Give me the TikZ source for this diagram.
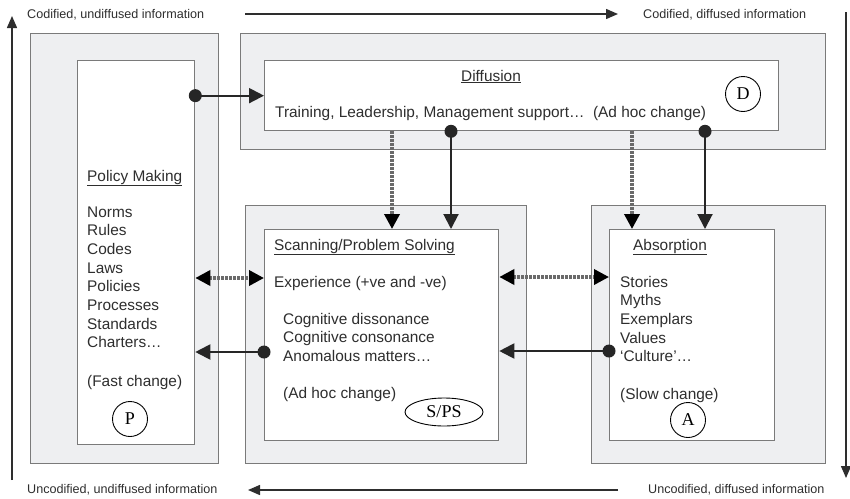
\documentclass[tikz,border=0pt]{standalone}
\usepackage{fontspec}
\setmainfont{Liberation Sans}
\newfontfamily\labelserif{Liberation Serif}
\usetikzlibrary{arrows.meta,shapes.geometric}
\definecolor{txtc}{HTML}{2E2E2E}
\definecolor{boxfill}{HTML}{EEEFF1}
\definecolor{boxline}{HTML}{7A7A7A}
\definecolor{dashc}{HTML}{6A6A6A}
\begin{document}
\begin{tikzpicture}[x=1pt,y=-1pt,
  outerbox/.style={draw=boxline, fill=boxfill, line width=1.3pt, inner sep=0pt, anchor=north west},
  innerbox/.style={draw=boxline, fill=white, line width=1.3pt, inner sep=0pt, anchor=north west},
  txt/.style={anchor=base west, inner sep=0pt, text=txtc, font=\fontsize{15.4}{18.7}\selectfont},
  axtxt/.style={anchor=base west, inner sep=0pt, text=txtc, font=\fontsize{12.6}{15}\selectfont},
  lbl/.style={circle, draw, line width=0.9pt, minimum size=35pt, inner sep=0pt, font=\labelserif\fontsize{18}{20}\selectfont},
  solidarrow/.style={draw=black!85, line width=2pt, -{Triangle[length=15pt,width=15pt]}},
  dasharrow/.style={draw=dashc, line width=3.5pt, dash pattern=on 2.5pt off 1.5pt, -{Triangle[length=15pt,width=15pt,color=black]}},
  dashboth/.style={draw=dashc, line width=3.5pt, dash pattern=on 2.5pt off 1.5pt, {Triangle[length=15pt,width=15pt,color=black]}-{Triangle[length=15pt,width=15pt,color=black]}},
  axarrow/.style={draw=txtc, line width=1.5pt, -{Triangle[length=12pt,width=10pt]}},
  dotc/.style={fill=black!85}
]
\useasboundingbox (0,0) rectangle (850,498);

% outer boxes
\node[outerbox, minimum width=188pt, minimum height=430pt] (Po) at (30,33) {};
\node[outerbox, minimum width=585pt, minimum height=116pt] (Do) at (240,33) {};
\node[outerbox, minimum width=281pt, minimum height=258pt] (So) at (245,205) {};
\node[outerbox, minimum width=234pt, minimum height=258pt] (Ao) at (591,205) {};
% inner boxes
\node[innerbox, minimum width=117pt, minimum height=384pt] (Pi) at (77,60) {};
\node[innerbox, minimum width=514pt, minimum height=70pt] (Di) at (264,60) {};
\node[innerbox, minimum width=234pt, minimum height=211pt] (Si) at (264,229) {};
\node[innerbox, minimum width=165pt, minimum height=211pt] (Ai) at (609,229) {};

% axis arrows
\coordinate (lb) at (12,480); \coordinate (lt) at (12,16);
\coordinate (rt) at (846,12); \coordinate (rb) at (846,478);
\coordinate (tl) at (245,14); \coordinate (tr) at (618,14);
\coordinate (br) at (618,490); \coordinate (bl) at (248,490);
\draw[axarrow] (lb) -- (lt);
\draw[axarrow] (rt) -- (rb);
\draw[axarrow] (tl) -- (tr);
\draw[axarrow] (br) -- (bl);

\node[axtxt] (ctl) at (27,18) {Codified, undiffused information};
\node[axtxt] (ctr) at (643,18) {Codified, diffused information};
\node[axtxt] (cbl) at (27,493) {Uncodified, undiffused information};
\node[axtxt] (cbr) at (648,493) {Uncodified, diffused information};

% connectors
\draw[solidarrow] (Pi.east |- Di.west) -- (Di.west);
\fill[dotc] (Pi.east |- Di.west) circle (6.5pt);

\draw[dasharrow] ([xshift=128pt]Di.south west) -- ([xshift=128pt]Si.north west);
\draw[solidarrow] ([xshift=187pt]Di.south west) -- ([xshift=187pt]Si.north west);
\fill[dotc] ([xshift=187pt]Di.south west) circle (6.5pt);

\draw[dasharrow] ([xshift=368pt]Di.south west) -- ([xshift=23pt]Ai.north west);
\draw[solidarrow] ([xshift=441pt]Di.south west) -- ([xshift=96pt]Ai.north west);
\fill[dotc] ([xshift=441pt]Di.south west) circle (6.5pt);

\draw[dashboth] ([yshift=-218pt]Pi.north east) -- ([yshift=-49pt]Si.north west);
\draw[solidarrow] ([yshift=-123pt]Si.north west) -- ([yshift=-292pt]Pi.north east);
\fill[dotc] ([yshift=-123pt]Si.north west) circle (6.5pt);

\draw[dashboth] ([yshift=-48pt]Si.north east) -- ([yshift=-48pt]Ai.north west);
\draw[solidarrow] ([yshift=-122pt]Ai.north west) -- ([yshift=-122pt]Si.north east);
\fill[dotc] ([yshift=-122pt]Ai.north west) circle (6.5pt);

% Policy making text
\node[txt] (ph) at (87,181) {\underline{Policy Making}};
\foreach \t [count=\i] in {Norms,Rules,Codes,Laws,Policies,Processes,Standards,Charters…}
  \node[txt] (p\i) at (87,198.3+18.7*\i) {\t};
\node[txt] (pf) at (87,386) {(Fast change)};
\node[lbl] (P) at (130,419) {P};

% Diffusion text
\node[txt, anchor=base] (dh) at (491,81) {\underline{Diffusion}};
\node[txt] (dt) at (275,117) {Training, Leadership, Management support…\ \ (Ad hoc change)};
\node[lbl] (D) at (743,94) {D};

% Scanning text
\node[txt] (sh) at (274,250) {\underline{Scanning/Problem Solving}};
\node[txt] (se) at (274,287) {Experience (+ve and -ve)};
\node[txt] (s1) at (283,324) {Cognitive dissonance};
\node[txt] (s2) at (283,342.7) {Cognitive consonance};
\node[txt] (s3) at (283,361.4) {Anomalous matters…};
\node[txt] (sf) at (283,398) {(Ad hoc change)};
\node[ellipse, draw, line width=0.9pt, minimum width=78pt, minimum height=28pt, inner sep=0pt, font=\labelserif\fontsize{18}{20}\selectfont] (SPS) at (444,412) {S/PS};

% Absorption text
\node[txt] (ah) at (633,250) {\underline{Absorption}};
\foreach \t [count=\i] in {Stories,Myths,Exemplars,Values,‘Culture’…}
  \node[txt] (a\i) at (620,268.3+18.7*\i) {\t};
\node[txt] (af) at (620,399) {(Slow change)};
\node[lbl] (A) at (688,420) {A};
\end{tikzpicture}
\end{document}
